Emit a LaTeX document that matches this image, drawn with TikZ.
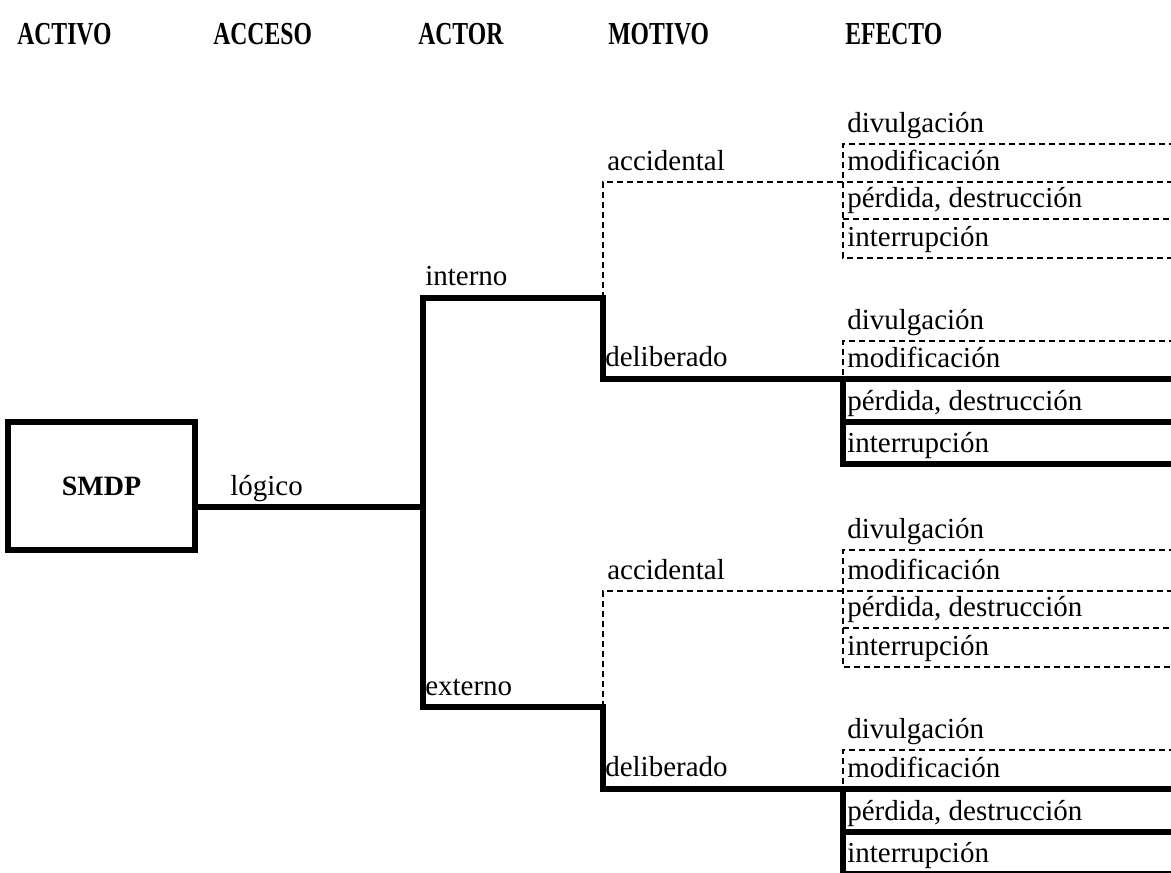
\documentclass[tikz,border=0pt]{standalone}
\usepackage{graphicx}
\usepackage{fontspec}
\setmainfont{Liberation Serif}
\usetikzlibrary{positioning}

\newcommand{\estrecho}[1]{\scalebox{0.74}[1]{#1}}

\tikzset{
  rama/.style={line width=4.2pt},
  hilo/.style={line width=1.8pt, dash pattern=on 4.5pt off 3pt},
  etiqueta/.style={anchor=base west, inner sep=0pt, font=\fontsize{21.75}{26}\selectfont},
  cabecera/.style={anchor=base west, inner sep=0pt, font=\fontsize{24}{28}\selectfont\bfseries},
}

\begin{document}
\begin{tikzpicture}[x=0.75pt,y=-0.75pt]
\useasboundingbox (0,0) rectangle (1171,872);
% cabeceras
\node[cabecera] (hActivo) at (17,44) {\estrecho{ACTIVO}};
\node[cabecera] (hAcceso) at (213,44) {\estrecho{ACCESO}};
\node[cabecera] (hActor) at (418,44) {\estrecho{ACTOR}};
\node[cabecera] (hMotivo) at (608,44) {\estrecho{MOTIVO}};
\node[cabecera] (hEfecto) at (845,44) {\estrecho{EFECTO}};

% activo y acceso
\node[draw, rama, minimum width=140pt, minimum height=96pt, inner sep=0pt,
      font=\fontsize{21}{25}\selectfont\bfseries] (smdp) at (101.5,486) {SMDP};
\coordinate (acc) at (423,507);
\draw[rama] (smdp.east |- acc) -- (acc);
\node[etiqueta] (logico) at (230,495) {lógico};

% actor
\coordinate (int) at (423,298);
\coordinate (ext) at (423,707);
\coordinate (intR) at (603,298);
\coordinate (extR) at (603,707);
\node[etiqueta] (interno) at (425,285) {interno};
\node[etiqueta] (externo) at (425,695) {externo};

% motivo
\coordinate (intAcc) at (603,182);
\coordinate (intDel) at (603,379);
\coordinate (extAcc) at (603,591);
\coordinate (extDel) at (603,789);
\node[etiqueta] (accInt) at (607,170) {accidental};
\node[etiqueta] (delInt) at (605,366) {deliberado};
\node[etiqueta] (accExt) at (607,579) {accidental};
\node[etiqueta] (delExt) at (605,776) {deliberado};

% efectos
\foreach \g/\ya/\yb/\yc/\yd in {ia/144/182/219/258, id/341/379/422/464,
                                ea/550/591/628/667, ed/750/789/832/874}{
  \coordinate (\g1) at (843,\ya);  \coordinate (\g1r) at (1175,\ya);
  \coordinate (\g2) at (843,\yb);  \coordinate (\g2r) at (1175,\yb);
  \coordinate (\g3) at (843,\yc);  \coordinate (\g3r) at (1175,\yc);
  \coordinate (\g4) at (843,\yd);  \coordinate (\g4r) at (1175,\yd);
  \node[etiqueta] (\g-div) at ([shift={(4,-12)}]\g1) {divulgación};
  \node[etiqueta] (\g-mod) at ([shift={(4,-12)}]\g2) {modificación};
  \node[etiqueta] (\g-per) at ([shift={(4,-12)}]\g3) {pérdida, destrucción};
  \node[etiqueta] (\g-int) at ([shift={(4,-12)}]\g4) {interrupción};
}

% ramas llenas
\draw[rama] (id2r) -- (intDel) -- (intR) -- (int) -- (ext) -- (extR) -- (extDel) -- (ed2r);
\draw[rama] (id2) -- (id4) -- (id4r);
\draw[rama] (id3) -- (id3r);
\draw[rama] (ed2) -- (ed4) -- (ed4r);
\draw[rama] (ed3) -- (ed3r);

% ramas punteadas
\draw[hilo] (intR) -- (intAcc) -- (ia2r);
\draw[hilo] (extR) -- (extAcc) -- (ea2r);
\draw[hilo] (ia1r) -- (ia1) -- (ia4) -- (ia4r);
\draw[hilo] (ia3) -- (ia3r);
\draw[hilo] (ea1r) -- (ea1) -- (ea4) -- (ea4r);
\draw[hilo] (ea3) -- (ea3r);
\draw[hilo] (id1r) -- (id1) -- (id2);
\draw[hilo] (ed1r) -- (ed1) -- (ed2);
\end{tikzpicture}
\end{document}
